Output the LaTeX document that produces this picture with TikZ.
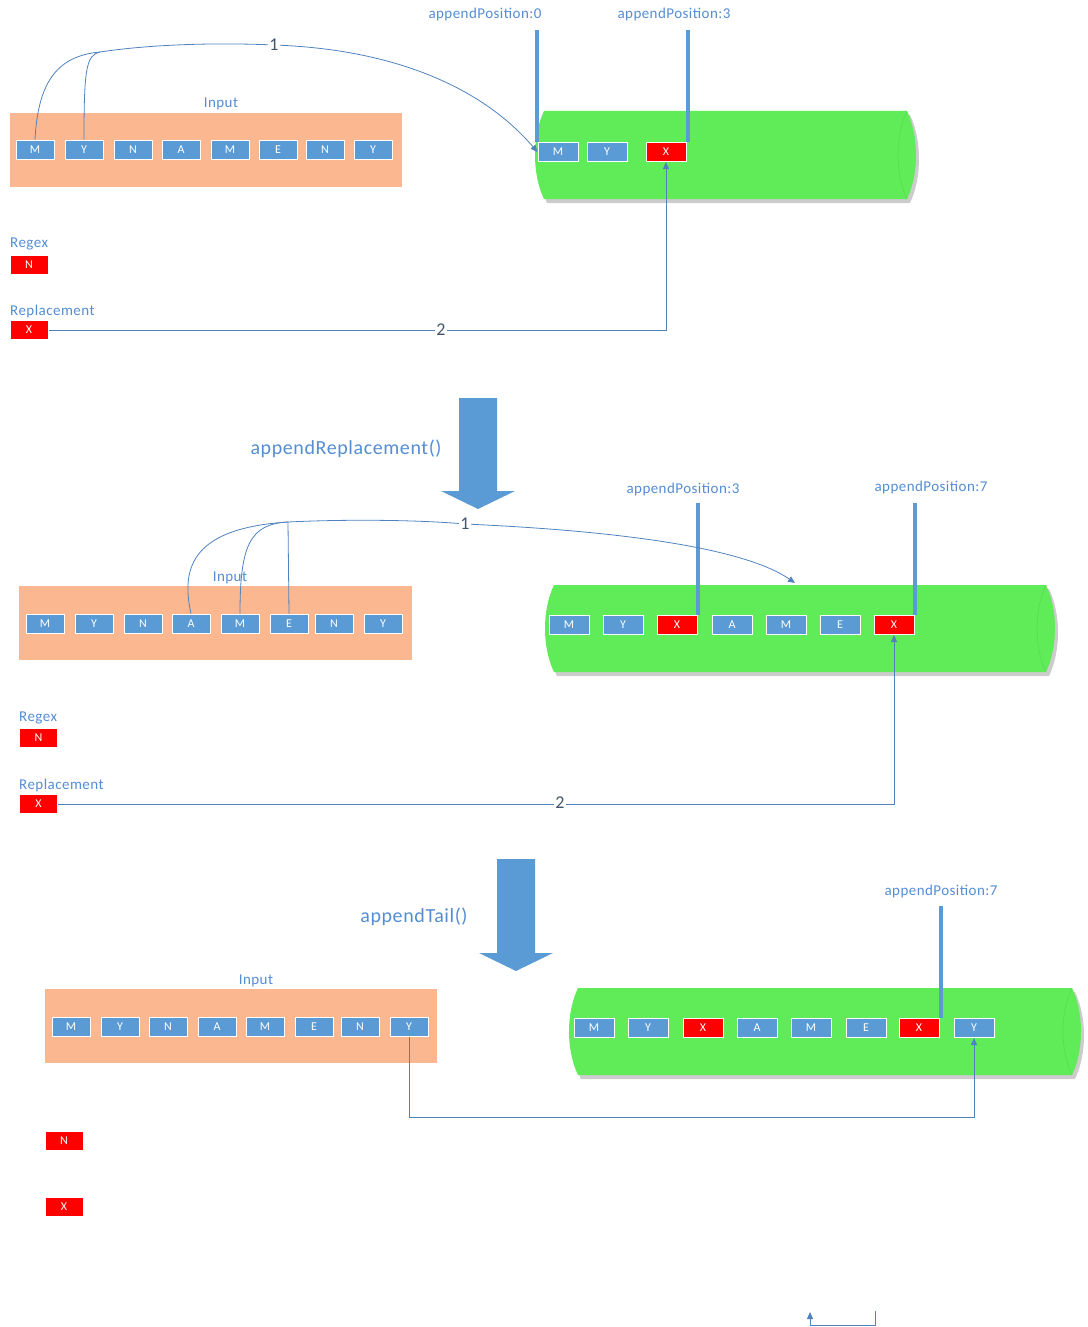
\documentclass[tikz,border=0pt]{standalone}
\usepackage{fontspec}
\setmainfont{Carlito}[LetterSpace=3]
\usetikzlibrary{arrows.meta}
\definecolor{boxblue}{RGB}{91,155,213}
\definecolor{lblblue}{RGB}{84,141,212}
\definecolor{connblue}{RGB}{80,130,190}
\definecolor{numgray}{RGB}{68,84,106}
\definecolor{peach}{RGB}{251,183,143}
\definecolor{tubegreen}{RGB}{96,235,88}
\definecolor{tubeedge}{RGB}{88,220,80}
\newcommand\greentube[4]{%
  \fill[black!40,opacity=0.5] (#1+12,#3+4) -- (#2-6,#3+4) .. controls (#2+6,#3+29) and (#2+6,#4-21) .. (#2-6,#4+4) -- (#1+12,#4+4) .. controls (#1,#4-21) and (#1,#3+29) .. (#1+12,#3+4) -- cycle;
  \fill[tubegreen] (#1+9,#3) -- (#2-9,#3) .. controls (#2+3,#3+25) and (#2+3,#4-25) .. (#2-9,#4) -- (#1+9,#4) .. controls (#1-3,#4-25) and (#1-3,#3+25) .. (#1+9,#3) -- cycle;
  \draw[tubeedge,line width=0.6pt] (#2-9,#3) .. controls (#2-21,#3+25) and (#2-21,#4-25) .. (#2-9,#4);
}
\begin{document}
\begin{tikzpicture}[x=1pt,y=-1pt,
  bbox/.style={rectangle,fill=boxblue,draw=white,line width=1pt,minimum width=38pt,minimum height=19pt,inner sep=0pt,text=white,font=\fontsize{12}{12}\selectfont},
  rbox/.style={bbox,fill=red},
  lbl/.style={text=lblblue,inner sep=0pt,font=\fontsize{15}{15}\selectfont},
  biglbl/.style={text=lblblue,inner sep=0pt,font=\fontsize{20}{20}\selectfont},
  numlbl/.style={text=numgray,fill=white,inner sep=1pt,font=\fontsize{18}{18}\selectfont},
  posbar/.style={draw=boxblue,line width=4pt},
  conn/.style={draw=connblue,line width=0.8pt},
  tip/.style={-{Triangle[length=7pt,width=6pt]}}
]
\useasboundingbox (0,0) rectangle (1087,1327);

% ================= Panel 1 =================
\fill[peach] (10,113) rectangle (402,187);
\node[lbl] (in1) at (221,104) {Input};
\foreach \x/\t [count=\i] in {35/M,84/Y,133/N,181/A,230/M,278/E,325/N,373/Y}
  \node[bbox] (i1-\i) at (\x,149.5) {\t};
\greentube{535}{916}{111}{199}
\node[bbox,minimum width=40pt] (g1-1) at (558,152) {M};
\node[bbox,minimum width=40pt] (g1-2) at (607,152) {Y};
\node[rbox,minimum width=40pt] (g1-3) at (666,152) {X};
\node[lbl] (ap10) at (485,15) {appendPosition:0};
\node[lbl] (ap13) at (674,15) {appendPosition:3};
\coordinate (b10) at (537,30);
\coordinate (b13) at (688,30);
\draw[posbar] (b10) -- (b10 |- g1-1.north);
\draw[posbar] (b13) -- (b13 |- g1-3.north);
\node[lbl,anchor=west] (rg1) at (10,244) {Regex};
\node[rbox] (rx1) at (29,264.5) {N};
\node[lbl,anchor=west] (rl1) at (10,311) {Replacement};
\node[rbox] (rp1) at (29,330) {X};
\coordinate (j1) at (100,52);
\draw[conn] (i1-1.north) .. controls (38,85) and (55,56) .. (j1);
\draw[conn] (i1-2.north) .. controls (84,70) and (86,55) .. (j1);
\draw[conn,tip] (j1) .. controls (160,43) and (230,43) .. (274,45) .. controls (390,49) and (480,85) .. (g1-1.west);
\node[numlbl] (n11) at (274,45) {1};
\draw[conn,tip] (rp1.east) -| (g1-3.south);
\node[numlbl] (n12) at (441,330) {2};

% ================= Arrow 1 =================
\fill[boxblue] (459,398) -- (497,398) -- (497,491) -- (515,491) -- (478,509) -- (441,491) -- (459,491) -- cycle;
\node[biglbl] (m1) at (346,449) {appendReplacement()};

% ================= Panel 2 =================
\fill[peach] (19,586) rectangle (412,660);
\greentube{545}{1055}{585}{672}
\foreach \x/\t [count=\i] in {45/M,94/Y,143/N,191/A,240/M,289/E,334/N,383/Y}
  \node[bbox] (i2-\i) at (\x,623.5) {\t};
\node[lbl] (in2) at (230,578) {Input};
\foreach \x/\t [count=\i] in {569/M,623/Y,677/X,732/A,786/M,840/E,894/X}
  \node[bbox,minimum width=40pt] (g2-\i) at (\x,625) {\t};
\node[rbox,minimum width=40pt] at (g2-3) {X};
\node[rbox,minimum width=40pt] at (g2-7) {X};
\node[lbl] (ap23) at (683,489) {appendPosition:3};
\node[lbl] (ap27) at (931,487) {appendPosition:7};
\coordinate (b23) at (698,503);
\coordinate (b27) at (915,503);
\draw[posbar] (b23) -- (b23 |- g2-3.north);
\draw[posbar] (b27) -- (b27 |- g2-7.north);
\node[lbl,anchor=west] (rg2) at (19,718) {Regex};
\node[rbox] (rx2) at (38.5,738) {N};
\node[lbl,anchor=west] (rl2) at (19,785) {Replacement};
\node[rbox] (rp2) at (38.5,804) {X};
\coordinate (j2) at (288,522);
\coordinate (t2) at (795,583);
\draw[conn] (i2-4.north) .. controls (180,565) and (195,528) .. (j2);
\draw[conn] (i2-5.north) .. controls (240,545) and (250,524) .. (j2);
\draw[conn] (i2-6.north) -- (j2);
\draw[conn,tip] (j2) .. controls (350,519) and (420,520) .. (465,524) .. controls (600,530) and (740,545) .. (t2);
\node[numlbl] (n21) at (465,524) {1};
\draw[conn,tip] (rp2.east) -| (g2-7.south);
\node[numlbl] (n22) at (560,803) {2};

% ================= Arrow 2 =================
\fill[boxblue] (497,859) -- (535,859) -- (535,953) -- (553,953) -- (516,971) -- (479,953) -- (497,953) -- cycle;
\node[biglbl] (m2) at (414,917) {appendTail()};

% ================= Panel 3 =================
\fill[peach] (45,989) rectangle (437,1063);
\node[lbl] (in3) at (256,981) {Input};
\foreach \x/\t [count=\i] in {71/M,120/Y,168/N,217/A,265/M,314/E,360/N,409/Y}
  \node[bbox] (i3-\i) at (\x,1026.5) {\t};
\greentube{569}{1081}{988}{1075}
\foreach \x/\t [count=\i] in {594/M,648/Y,703/X,757/A,811/M,866/E,919/X,974/Y}
  \node[bbox,minimum width=40pt] (g3-\i) at (\x,1028) {\t};
\node[rbox,minimum width=40pt] at (g3-3) {X};
\node[rbox,minimum width=40pt] at (g3-7) {X};
\node[lbl] (ap37) at (941,891) {appendPosition:7};
\coordinate (b37) at (941,906);
\draw[posbar] (b37) -- (b37 |- g3-7.north);
\node[rbox] (rx3) at (64,1140.5) {N};
\node[rbox] (rp3) at (64,1207) {X};
\draw[conn,tip] (i3-8.south) -- ++(0,81) -| (g3-8.south);

% stray connector
\coordinate (s1) at (875,1311);
\coordinate (s2) at (810,1312);
\draw[conn,tip] (s1) -- ++(0,14) -| (s2);
\end{tikzpicture}
\end{document}
